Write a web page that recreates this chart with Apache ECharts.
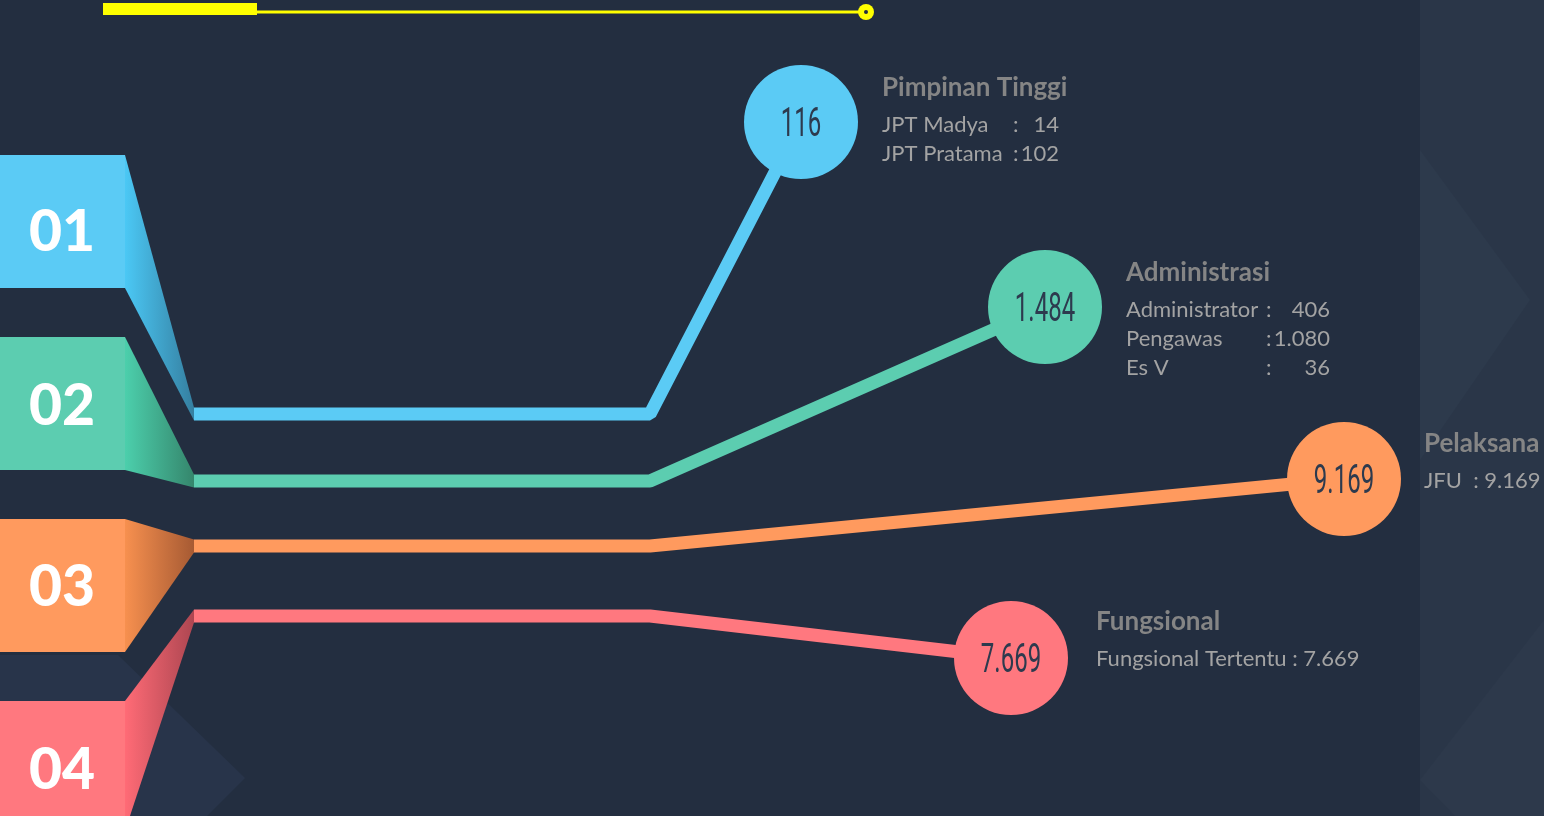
<!DOCTYPE html>
<html>
<head>
<meta charset="utf-8">
<script src="https://cdn.jsdelivr.net/npm/echarts@6/dist/echarts.min.js"></script>
<style>html,body{margin:0;padding:0;background:#232e40;}#c{width:1544px;height:816px;}</style>
</head>
<body>
<div id="c"></div>
<script>
// ---- data ----
const categories = ['Pimpinan Tinggi', 'Administrasi', 'Pelaksana', 'Fungsional'];
const tabLabels = ['01', '02', '03', '04'];
const totals = [116, 1484, 9169, 7669];
const detailNames = [['JPT Madya', 'JPT Pratama'], ['Administrator', 'Pengawas', 'Es V'], ['JFU'], ['Fungsional Tertentu']];
const detailValues = [[14, 102], [406, 1080, 36], [9169], [7669]];

// ---- layout (positions in canvas units) ----
const tabTop = [155, 337, 519, 701];
const tabBottom = [288, 470, 652, 831];
const tabLabelY = [233, 407, 588, 771];
const lineY = [414, 481, 546, 616];
const circleCenter = [[801, 122], [1045, 307], [1344, 479], [1011, 658]];
const textX = [882, 1126, 1424, 1096];
const titleY = [88, 273, 444, 622];
const rowY0 = [125, 310, 481, 659];
const colonX = [1013, 1266, 1469, 1292];
const valueRight = [1059, 1330, 1534, 1362];
const colors = ['#5bcbf5', '#5ccdb0', '#ff9a5e', '#ff787f'];
const foldDark = ['#357fa0', '#35866c', '#a65a33', '#ad4651'];
const foldLight = ['#4bc8f5', '#4ccfac', '#f7904f', '#ff6b76'];

const fmt = n => String(n).replace(/\B(?=(\d{3})+(?!\d))/g, '.');

const chart = echarts.init(document.getElementById('c'), null, {renderer: 'canvas'});
const idx = categories.map((c, i) => [i, 0]);

const lineSeries = categories.map((c, i) => ({
  type: 'line', name: c, z: 3, silent: true, symbol: 'none', animation: false,
  lineStyle: {color: colors[i], width: 13, cap: 'butt', join: 'bevel'},
  data: [[194, lineY[i]], [650, lineY[i]], circleCenter[i]]
}));

const option = {
  backgroundColor: '#232e40',
  animation: false,
  grid: {left: 0, right: 0, top: 0, bottom: 0},
  xAxis: {type: 'value', min: 0, max: 1544, show: false},
  yAxis: {type: 'value', min: 0, max: 816, inverse: true, show: false},
  graphic: [
    {type: 'rect', z: 0, shape: {x: 1420, y: 0, width: 124, height: 816}, style: {fill: '#2a3648'}},
    {type: 'polygon', z: 0, shape: {points: [[1420, 150], [1530, 300], [1420, 460]]}, style: {fill: '#2d3a4c'}},
    {type: 'polygon', z: 0, shape: {points: [[1420, 780], [1544, 620], [1544, 816], [1455, 816]]}, style: {fill: '#2d394b'}},
    {type: 'polygon', z: 0, shape: {points: [[0, 655], [118, 655], [245, 778], [207, 816], [0, 816]]}, style: {fill: '#28344a'}},
    {type: 'rect', z: 5, shape: {x: 103, y: 3, width: 154, height: 12}, style: {fill: '#ffff00'}},
    {type: 'line', z: 5, shape: {x1: 257, y1: 12, x2: 862, y2: 12}, style: {stroke: '#ffff00', lineWidth: 3}},
    {type: 'circle', z: 5, shape: {cx: 866, cy: 12, r: 8}, style: {fill: '#ffff00'}},
    {type: 'circle', z: 6, shape: {cx: 866, cy: 12, r: 2}, style: {fill: '#232e40'}}
  ],
  series: [
    ...lineSeries,
    {
      type: 'custom', z: 4, silent: true, data: idx,
      renderItem: function (params, api) {
        const i = api.value(0);
        const p = (x, y) => api.coord([x, y]);
        const a = p(0, tabTop[i]), b = p(125, tabBottom[i]);
        const lp = p(62, tabLabelY[i]);
        return {
          type: 'group', children: [
            {type: 'rect', shape: {x: a[0], y: a[1], width: b[0] - a[0], height: b[1] - a[1]}, style: {fill: colors[i]}},
            {type: 'polygon', shape: {points: [p(125, tabTop[i]), p(194, lineY[i] - 6.5), p(194, lineY[i] + 6.5), p(125, tabBottom[i])]},
              style: {fill: new echarts.graphic.LinearGradient(0, 0, 1, 0, [{offset: 0, color: foldLight[i]}, {offset: 1, color: foldDark[i]}])}},
            {type: 'text', x: lp[0], y: lp[1],
              style: {text: tabLabels[i], x: 0, y: 0, align: 'center', verticalAlign: 'middle', fill: '#ffffff',
                fontFamily: 'Lato', fontWeight: 900, fontSize: 57}}
          ]
        };
      }
    },
    {
      type: 'custom', z: 6, silent: true, data: idx,
      renderItem: function (params, api) {
        const i = api.value(0);
        const c = api.coord(circleCenter[i]);
        const e = api.coord([circleCenter[i][0] + 57, circleCenter[i][1]]);
        return {
          type: 'group', children: [
            {type: 'circle', shape: {cx: c[0], cy: c[1], r: e[0] - c[0]}, style: {fill: colors[i]}},
            {type: 'text', x: c[0], y: c[1] + 4, scaleX: 0.6,
              style: {text: fmt(totals[i]), x: 0, y: 0, align: 'center', verticalAlign: 'middle', fill: '#2d3a4e',
                fontFamily: 'Roboto', fontWeight: 'normal', fontSize: 40}}
          ]
        };
      }
    },
    {
      type: 'custom', z: 6, silent: true, data: idx,
      renderItem: function (params, api) {
        const i = api.value(0);
        const p = (x, y) => api.coord([x, y]);
        const kids = [];
        const t = p(textX[i], titleY[i]);
        kids.push({type: 'text', x: t[0], y: t[1], style: {text: categories[i], x: 0, y: 0, align: 'left', verticalAlign: 'middle',
          fill: '#858585', fontFamily: 'Lato', fontWeight: 'bold', fontSize: 26}});
        const body = {fill: '#a3a3a3', fontFamily: 'Lato', fontSize: 22, verticalAlign: 'middle'};
        detailNames[i].forEach((name, k) => {
          const y = rowY0[i] + k * 29;
          if (i >= 2) {
            const q = p(textX[i], y);
            const txt = i === 2 ? name + '  : ' + fmt(detailValues[i][k]) : name + ' : ' + fmt(detailValues[i][k]);
            kids.push({type: 'text', x: q[0], y: q[1], style: Object.assign({text: txt, x: 0, y: 0, align: 'left'}, body)});
          } else {
            const q = p(textX[i], y), r = p(colonX[i], y), s = p(valueRight[i], y);
            kids.push({type: 'text', x: q[0], y: q[1], style: Object.assign({text: name, x: 0, y: 0, align: 'left'}, body)});
            kids.push({type: 'text', x: r[0], y: r[1], style: Object.assign({text: ':', x: 0, y: 0, align: 'left'}, body)});
            kids.push({type: 'text', x: s[0], y: s[1], style: Object.assign({text: fmt(detailValues[i][k]), x: 0, y: 0, align: 'right'}, body)});
          }
        });
        return {type: 'group', children: kids};
      }
    }
  ]
};
chart.setOption(option);
</script>
</body>
</html>
